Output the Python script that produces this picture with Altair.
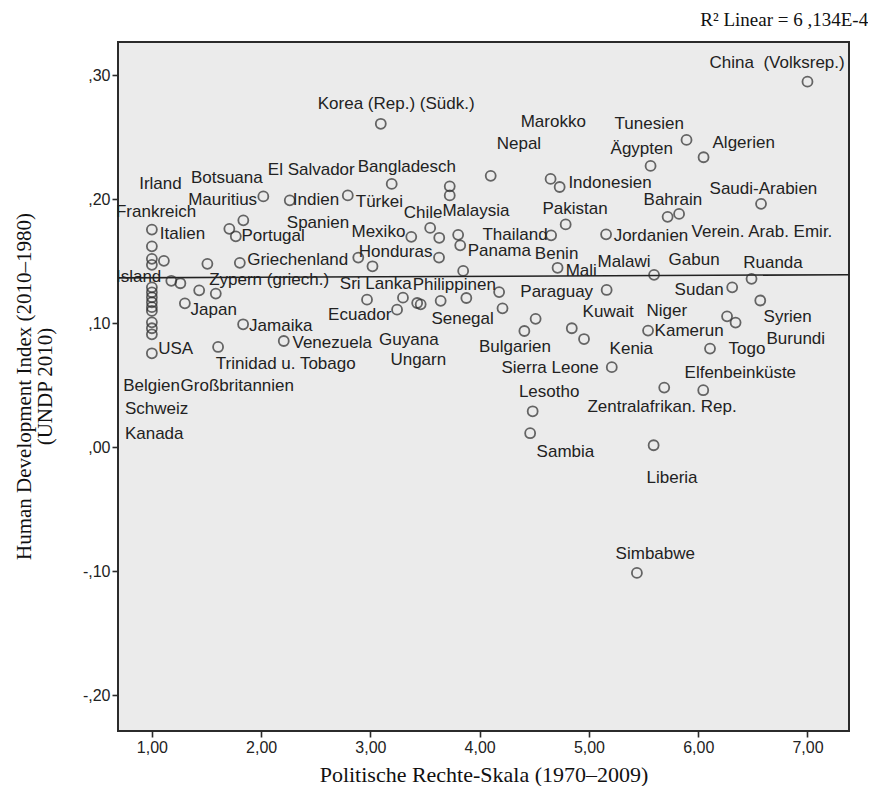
import altair as alt
import pandas as pd

# ---- data: scatter points (Politische Rechte-Skala, HDI change) ----
x_vals = [7.000, 3.095, 5.893, 6.049, 5.564, 4.101, 4.649, 4.732, 3.195, 3.726,
          3.726, 2.020, 2.793, 2.262, 6.575, 5.825, 5.720, 4.787, 1.837, 1.709,
          1.768, 1.000, 3.547, 3.630, 3.374, 3.803, 4.654, 5.157, 3.822, 1.000,
          1.000, 1.000, 1.110, 1.508, 1.805, 2.889, 3.628, 3.019, 3.849, 4.713,
          5.596, 6.488, 1.178, 1.261, 1.433, 1.585, 1.302, 1.000, 1.000, 1.000,
          1.000, 1.000, 1.000, 1.000, 1.000, 1.000, 1.000, 1.835, 2.207, 1.606,
          2.969, 3.298, 3.244, 3.428, 3.460, 3.643, 3.878, 4.178, 4.209, 4.512,
          4.409, 4.843, 4.955, 5.162, 6.311, 6.568, 6.264, 6.342, 5.541, 6.108,
          5.209, 5.689, 6.046, 4.485, 4.462, 5.592, 5.439]
y_vals = [0.295, 0.261, 0.248, 0.234, 0.227, 0.219, 0.2165, 0.210, 0.2125, 0.2105,
          0.2032, 0.2024, 0.2032, 0.1992, 0.1964, 0.1883, 0.1859, 0.1798, 0.1831, 0.1762,
          0.1702, 0.1756, 0.1770, 0.1690, 0.1698, 0.1714, 0.1710, 0.1718, 0.1629, 0.1621,
          0.1520, 0.1472, 0.1504, 0.1480, 0.1488, 0.1530, 0.1530, 0.1460, 0.1423, 0.1448,
          0.1391, 0.1359, 0.1343, 0.1323, 0.1266, 0.1240, 0.1161, 0.129, 0.125, 0.121,
          0.117, 0.113, 0.110, 0.1008, 0.0960, 0.0911, 0.0758, 0.0992, 0.0857, 0.0809,
          0.1191, 0.1207, 0.1110, 0.1164, 0.1153, 0.1181, 0.1204, 0.1252, 0.1121, 0.1036,
          0.0938, 0.0960, 0.0873, 0.1269, 0.1290, 0.1184, 0.1056, 0.1006, 0.0941, 0.0796,
          0.0646, 0.0481, 0.0460, 0.0290, 0.0113, 0.0016, -0.1014]

# ---- data: country labels and their anchor (in data units) ----
label_text = ["China \u00a0(Volksrep.)", "Korea (Rep.) (Südk.)", "Marokko", "Nepal", "Tunesien",
              "Algerien", "Ägypten", "Bangladesch", "El Salvador", "Botsuana",
              "Irland", "Mauritius", "Indien", "Türkei", "Indonesien",
              "Saudi-Arabien", "Bahrain", "Frankreich", "Spanien", "Chile",
              "Malaysia", "Pakistan", "Italien", "Portugal", "Mexiko",
              "Thailand", "Jordanien", "Verein. Arab. Emir.", "Honduras", "Panama",
              "Benin", "Griechenland", "Malawi", "Gabun", "Ruanda",
              "Mali", "Island", "Zypern (griech.)", "Sri Lanka", "Philippinen",
              "Paraguay", "Sudan", "Japan", "Ecuador", "Senegal",
              "Kuwait", "Niger", "Syrien", "Kamerun", "Jamaika",
              "Venezuela", "Guyana", "Bulgarien", "Togo", "Burundi",
              "USA", "Trinidad u. Tobago", "Ungarn", "Sierra Leone", "Kenia",
              "Elfenbeinküste", "Belgien", "Großbritannien", "Lesotho", "Zentralafrikan. Rep.",
              "Schweiz", "Kanada", "Sambia", "Liberia", "Simbabwe"]
label_x = [6.104, 2.518, 4.375, 4.156, 5.235,
           6.131, 5.198, 2.884, 2.061, 1.357,
           0.884, 1.332, 2.290, 2.866, 4.812,
           6.104, 5.500, 0.671, 2.235, 3.305,
           3.659, 4.574, 1.073, 1.820, 2.827,
           4.025, 5.226, 5.939, 2.893, 3.890,
           4.505, 1.872, 5.079, 5.729, 6.412,
           4.787, 0.671, 1.524, 2.720, 3.387,
           4.372, 5.784, 1.354, 2.613, 3.558,
           4.942, 5.527, 6.598, 5.601, 1.890,
           2.287, 3.079, 3.994, 6.278, 6.625,
           1.058, 1.585, 3.183, 4.199, 5.189,
           5.875, 0.738, 1.263, 4.359, 4.986,
           0.753, 0.753, 4.521, 5.527, 5.244]
label_y = [0.3097, 0.2766, 0.2621, 0.2444, 0.2610,
           0.2456, 0.2403, 0.2261, 0.2234, 0.2175,
           0.2121, 0.1998, 0.1992, 0.1978, 0.2129,
           0.2082, 0.1992, 0.1898, 0.1809, 0.1890,
           0.1903, 0.1923, 0.1723, 0.1702, 0.1736,
           0.1710, 0.1702, 0.1734, 0.1575, 0.1583,
           0.1556, 0.1514, 0.1492, 0.1514, 0.1486,
           0.1419, 0.1373, 0.1347, 0.1315, 0.1306,
           0.1254, 0.1266, 0.1110, 0.1065, 0.1038,
           0.1091, 0.1097, 0.1052, 0.0935, 0.0976,
           0.0841, 0.0869, 0.0809, 0.0790, 0.0871,
           0.0796, 0.0669, 0.0707, 0.0637, 0.0790,
           0.0599, 0.0492, 0.0492, 0.0444, 0.0323,
           0.0312, 0.0105, -0.0038, -0.0250, -0.0863]

x_ticks = [1, 2, 3, 4, 5, 6, 7]
y_ticks = [-0.2, -0.1, 0.0, 0.1, 0.2, 0.3]
r2_text = "R\u00b2 Linear = 6 ,134E-4"

points = pd.DataFrame({"x": x_vals, "y": y_vals})
labels = pd.DataFrame({"name": label_text, "lx": label_x, "ly": label_y})

X_DOMAIN = [0.69, 7.38]
Y_DOMAIN = [-0.229, 0.327]
xscale = alt.Scale(domain=X_DOMAIN, nice=False, zero=False)
yscale = alt.Scale(domain=Y_DOMAIN, nice=False, zero=False)

INK = "#2b2b2b"

xaxis = alt.Axis(
    values=x_ticks,
    labelExpr="replace(format(datum.value, '.2f'), '.', ',')",
    title="Politische Rechte-Skala (1970\u20132009)",
    grid=False, domain=False,
    tickSize=6, tickWidth=1.6, tickColor=INK,
    labelFont="Liberation Sans", labelFontSize=16, labelColor="#222", labelPadding=2,
    titleFont="Liberation Serif", titleFontSize=22, titleFontWeight="normal",
    titleColor="#111", titleY=43, titleBaseline="middle",
)
yaxis = alt.Axis(
    values=y_ticks,
    labelExpr="replace(replace(format(datum.value, '.2f'), '\u2212', '-'), '0.', ',')",
    title=["Human Development Index (2010\u20131980)", "(UNDP 2010)"],
    grid=False, domain=False,
    tickSize=6, tickWidth=1.6, tickColor=INK,
    labelFont="Liberation Sans", labelFontSize=16, labelColor="#222", labelPadding=2,
    titleFont="Liberation Serif", titleFontSize=21, titleFontWeight="normal",
    titleColor="#111", titleX=-105, titleY=344, titleBaseline="top",
    titleLineHeight=21,
)

base = alt.Chart(points)

dots = base.mark_point(shape="circle", filled=False, size=100, strokeWidth=1.8, color=INK).encode(
    x=alt.X("x:Q", scale=xscale, axis=xaxis),
    y=alt.Y("y:Q", scale=yscale, axis=yaxis),
)

fit = base.transform_regression("x", "y", extent=X_DOMAIN).mark_line(
    color="#222", strokeWidth=1.6
).encode(
    x=alt.X("x:Q", scale=xscale),
    y=alt.Y("y:Q", scale=yscale),
)

texts = alt.Chart(labels).mark_text(
    align="left", baseline="middle", font="Liberation Sans", fontSize=17, color="#222"
).encode(
    x=alt.X("lx:Q", scale=xscale),
    y=alt.Y("ly:Q", scale=yscale),
    text="name:N",
)

chart = alt.layer(fit, dots, texts).properties(
    width=731, height=689,
    autosize=alt.AutoSizeParams(type="none"),
    padding={"left": 110, "top": 34, "right": 19, "bottom": 55},
    title=alt.TitleParams(
        text=r2_text, anchor="end", font="Liberation Serif", fontSize=19,
        fontWeight="normal", color="#111", dx=16, offset=12,
    ),
    background="white",
).configure_view(
    fill="#EBEBEB", stroke=INK, strokeWidth=2
)

chart.save("out.html", embed_options={"renderer": "svg", "actions": False})
